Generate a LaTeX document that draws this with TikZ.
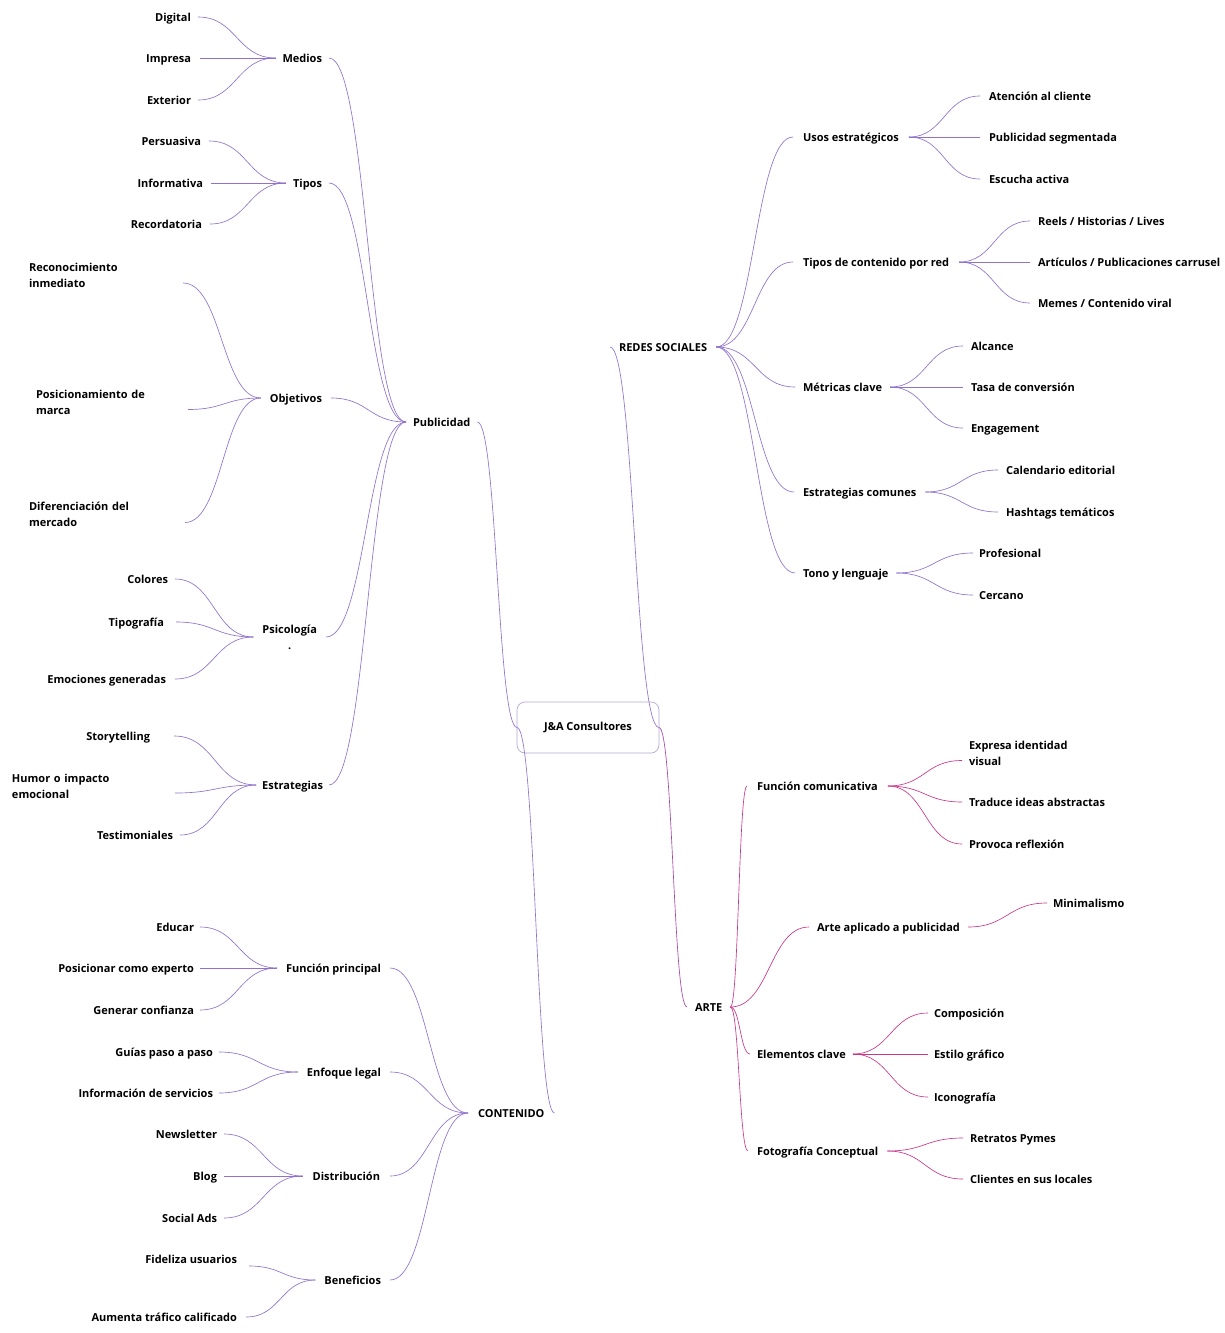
\documentclass[tikz,border=0pt]{standalone}
\usepackage{fontspec}
\setmainfont{Open Sans}
\usetikzlibrary{calc}
\definecolor{pl}{HTML}{9072CC}
\definecolor{mg}{HTML}{C8388A}
\definecolor{mx}{HTML}{A546A8}
\definecolor{bx}{HTML}{B8A8D4}
\begin{document}
\begin{tikzpicture}[x=1pt,y=-1pt,
 tx/.style={font=\bfseries\fontsize{11}{16}\selectfont, inner sep=0pt, outer ysep=0pt},
 t/.style={tx, text height=8pt, text depth=0pt},
 R/.style={t, anchor=west, outer xsep=#1pt, xshift=-#1pt}, R/.default=7,
 L/.style={t, anchor=east, outer xsep=#1pt, xshift=#1pt}, L/.default=7,
 ML/.style={tx, align=left, anchor=west, outer xsep=6pt, xshift=-6pt, text width=#1},
 sc/.style={to path={let \p1=(\tikztostart), \p2=(\tikztotarget) in .. controls ({0.5*\x1+0.5*\x2},\y1) and ({0.5*\x1+0.5*\x2},\y2) .. (\tikztotarget)}},
 lp/.style={draw=pl, line width=0.65pt, sc},
 lm/.style={draw=mg, line width=0.65pt, sc},
 lx/.style={draw=mx, line width=0.65pt, sc},
 rootbox/.style={tx, draw=bx, line width=0.7pt, rounded corners=8pt, minimum width=142pt, minimum height=51pt, outer sep=0pt}
]
\fill[white] (0,0) rectangle (1225,1333);
\useasboundingbox (0,0) rectangle (1225,1333);

% root
\node[rootbox] (root) at (588,727.5) {J\&A Consultores};

% main branches
\node[R] (pub) at (413,422) {Publicidad};
\node[R=10] (cont) at (478,1113) {CONTENIDO};
\node[R=9] (redes) at (619,347) {REDES SOCIALES};
\node[R=8] (arte) at (695,1007) {ARTE};

% Publicidad level 2
\node[L] (medios) at (322,58) {Medios};
\node[L] (tipos) at (322,183) {Tipos};
\node[L=9] (objetivos) at (322,398) {Objetivos};
\node[tx, align=center, anchor=east, outer xsep=9pt, xshift=9pt] (psico) at (317,637) {Psicología\\.};
\node[L=6] (estr) at (323,785) {Estrategias};

% Publicidad level 3
\node[L] (digital) at (191,17) {Digital};
\node[L=9] (impresa) at (191,58) {Impresa};
\node[L] (exterior) at (191,100) {Exterior};
\node[L=8] (persuasiva) at (201,141) {Persuasiva};
\node[L=8] (informativa) at (203,183) {Informativa};
\node[L=8] (recordatoria) at (202,224) {Recordatoria};
\node[ML=148pt] (rec) at (29,275) {Reconocimiento\\inmediato};
\node[ML=146pt] (pos) at (36,402.5) {Posicionamiento de\\marca};
\node[ML=150pt] (dif) at (29,514.5) {Diferenciación del\\mercado};
\node[L] (colores) at (168,579) {Colores};
\node[L=12] (tipografia) at (164,622) {Tipografía};
\node[L=9] (emociones) at (166,679) {Emociones generadas};
\node[L=24] (story) at (150,736) {Storytelling};
\node[ML=157pt] (humor) at (12,786) {Humor o impacto\\emocional};
\node[L] (testim) at (173,835) {Testimoniales};

% CONTENIDO
\node[L=9] (funcp) at (381,968) {Función principal};
\node[L=9] (enfoque) at (381,1072) {Enfoque legal};
\node[L=10] (distrib) at (380,1176) {Distribución};
\node[L=9] (benef) at (381,1280) {Beneficios};
\node[L=6] (educar) at (194,927) {Educar};
\node[L=6] (posic) at (194,968) {Posicionar como experto};
\node[L=6] (generar) at (194,1010) {Generar confianza};
\node[L=6] (guias) at (213,1052) {Guías paso a paso};
\node[L=6] (info) at (213,1093) {Información de servicios};
\node[L] (news) at (217,1134) {Newsletter};
\node[L] (blog) at (217,1176) {Blog};
\node[L] (social) at (217,1218) {Social Ads};
\node[L=12] (fideliza) at (237,1259) {Fideliza usuarios};
\node[L=9] (aumenta) at (237,1317) {Aumenta tráfico calificado};

% REDES SOCIALES
\node[R=10] (usos) at (803,137) {Usos estratégicos};
\node[R=10] (tiposc) at (803,262) {Tipos de contenido por red};
\node[R=8] (metricas) at (803,387) {Métricas clave};
\node[R=9] (estrc) at (803,492) {Estrategias comunes};
\node[R=8] (tono) at (803,573) {Tono y lenguaje};
\node[R=9] (atencion) at (989,96) {Atención al cliente};
\node[R=9] (pubseg) at (989,137) {Publicidad segmentada};
\node[R=9] (escucha) at (989,179) {Escucha activa};
\node[R=8] (reels) at (1038,221) {Reels / Historias / Lives};
\node[R=8] (articulos) at (1038,262) {Artículos / Publicaciones carrusel};
\node[R=8] (memes) at (1038,303) {Memes / Contenido viral};
\node[R=8] (alcance) at (971,346) {Alcance};
\node[R=8] (tasa) at (971,387) {Tasa de conversión};
\node[R=8] (engag) at (971,428) {Engagement};
\node[R=8] (calend) at (1006,470) {Calendario editorial};
\node[R=8] (hashtags) at (1006,512) {Hashtags temáticos};
\node[R=6] (prof) at (979,553) {Profesional};
\node[R=6] (cercano) at (979,595) {Cercano};

% ARTE
\node[R=10] (funcc) at (757,786) {Función comunicativa};
\node[R=8] (arteap) at (817,927) {Arte aplicado a publicidad};
\node[R=7] (elem) at (757,1054) {Elementos clave};
\node[R=9] (foto) at (757,1151) {Fotografía Conceptual};
\node[tx, align=left, anchor=west, outer xsep=7pt, xshift=-7pt] (expresa) at (969,753.5) {Expresa identidad\\visual};
\node[R] (traduce) at (969,802) {Traduce ideas abstractas};
\node[R] (provoca) at (969,844) {Provoca reflexión};
\node[R=6] (minimal) at (1053,903) {Minimalismo};
\node[R=6] (compos) at (934,1013) {Composición};
\node[R=6] (estilo) at (934,1054) {Estilo gráfico};
\node[R=6] (icono) at (934,1097) {Iconografía};
\node[R=7] (retratos) at (970,1138) {Retratos Pymes};
\node[R=7] (clientes) at (970,1179) {Clientes en sus locales};

% connectors: root
\draw[lp] (pub.east) to (root.west);
\draw[lp] (cont.east) to (root.west);
\draw[lp] (root.east) to (redes.west);
\draw[lx] (root.east) to (arte.west);

% Publicidad
\foreach \k in {medios,tipos,objetivos,psico,estr} \draw[lp] (\k.east) to (pub.west);
\foreach \k in {digital,impresa,exterior} \draw[lp] (\k.east) to (medios.west);
\foreach \k in {persuasiva,informativa,recordatoria} \draw[lp] (\k.east) to (tipos.west);
\draw[lp] ([yshift=-8pt]rec.east) to (objetivos.west);
\draw[lp] ([yshift=-7pt]pos.east) to (objetivos.west);
\draw[lp] ([yshift=-8pt]dif.east) to (objetivos.west);
\foreach \k in {colores,tipografia,emociones} \draw[lp] (\k.east) to (psico.west);
\draw[lp] (story.east) to (estr.west);
\draw[lp] ([yshift=-7pt]humor.east) to (estr.west);
\draw[lp] (testim.east) to (estr.west);

% CONTENIDO
\foreach \k in {funcp,enfoque,distrib,benef} \draw[lp] (\k.east) to (cont.west);
\foreach \k in {educar,posic,generar} \draw[lp] (\k.east) to (funcp.west);
\foreach \k in {guias,info} \draw[lp] (\k.east) to (enfoque.west);
\foreach \k in {news,blog,social} \draw[lp] (\k.east) to (distrib.west);
\draw[lp] ([yshift=-7pt]fideliza.east) to (benef.west);
\draw[lp] (aumenta.east) to (benef.west);

% REDES
\foreach \k in {usos,tiposc,metricas,estrc,tono} \draw[lp] (redes.east) to (\k.west);
\foreach \k in {atencion,pubseg,escucha} \draw[lp] (usos.east) to (\k.west);
\foreach \k in {reels,articulos,memes} \draw[lp] (tiposc.east) to (\k.west);
\foreach \k in {alcance,tasa,engag} \draw[lp] (metricas.east) to (\k.west);
\foreach \k in {calend,hashtags} \draw[lp] (estrc.east) to (\k.west);
\foreach \k in {prof,cercano} \draw[lp] (tono.east) to (\k.west);

% ARTE
\foreach \k in {funcc,arteap,elem,foto} \draw[lm] (arte.east) to (\k.west);
\draw[lm] (funcc.east) to ([yshift=-7pt]expresa.west);
\foreach \k in {traduce,provoca} \draw[lm] (funcc.east) to (\k.west);
\draw[lm] (arteap.east) to (minimal.west);
\foreach \k in {compos,estilo,icono} \draw[lm] (elem.east) to (\k.west);
\foreach \k in {retratos,clientes} \draw[lm] (foto.east) to (\k.west);
\end{tikzpicture}
\end{document}
